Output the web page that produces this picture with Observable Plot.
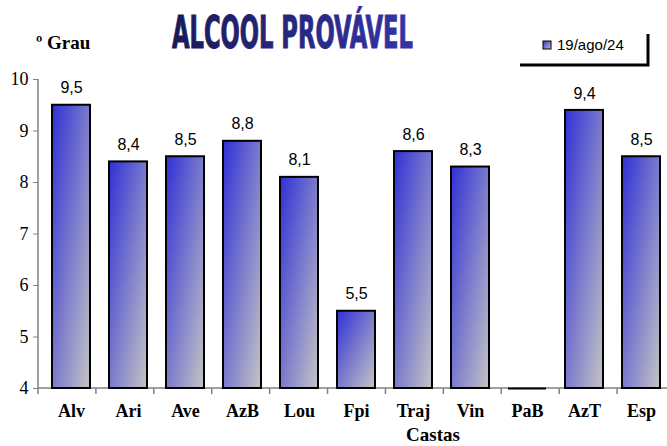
<!DOCTYPE html>
<html><head><meta charset="utf-8">
<script src="https://cdn.jsdelivr.net/npm/d3@7"></script>
<script src="https://cdn.jsdelivr.net/npm/@observablehq/plot@0.6"></script>
<style>html,body{margin:0;padding:0;overflow:hidden;background:#fff}</style>
</head><body><div id="chart"></div>
<script>
const castas = ["Alv","Ari","Ave","AzB","Lou","Fpi","Traj","Vin","PaB","AzT","Esp"];
const valores = [9.5, 8.4, 8.5, 8.8, 8.1, 5.5, 8.6, 8.3, 0, 9.4, 8.5];
const yTicks = [4, 5, 6, 7, 8, 9, 10];
const titulo = "ALCOOL PROVÁVEL";
const legendaLabel = "19/ago/24";
const yLabel = "º Grau";
const xLabel = "Castas";
const baseline = 4;

const data = castas.map((c, i) => ({casta: c, valor: valores[i]}));
const fmt = v => v.toFixed(1).replace(".", ",");
const serif = "'Liberation Serif','Times New Roman',serif";
const sans = "'Liberation Sans',Arial,sans-serif";

const plot = Plot.plot({
  width: 667, height: 446,
  marginLeft: 38, marginRight: -8, marginTop: 79, marginBottom: 58,
  style: {background: "white", overflow: "hidden"},
  x: {domain: castas, paddingInner: 0.33, paddingOuter: 0.165, label: null},
  y: {domain: [4, 10], label: null},
  marks: [
    Plot.axisY({ticks: yTicks, tickFormat: d3.format("d"), tickSize: 5, tickPadding: 5, stroke: "#808080", fontSize: 18, fontFamily: serif, label: null}),
    Plot.axisX({tickSize: 0, tickPadding: 16, fontSize: 18, fontWeight: "bold", fontFamily: serif, label: null}),
    Plot.barY(data.filter(d => d.valor > baseline), {x: "casta", y1: baseline, y2: "valor", fill: "url(#barGrad)", stroke: "black", strokeWidth: 2}),
    Plot.tickY(data.filter(d => d.valor <= baseline), {x: "casta", y: () => baseline, stroke: "black", strokeWidth: 2}),
    Plot.text(data.filter(d => d.valor > baseline), {x: "casta", y: "valor", text: d => fmt(d.valor), dy: -17, fontSize: 16, fontFamily: sans, fill: "black"})
  ]
});
document.getElementById("chart").appendChild(plot);

const svg = d3.select(plot);
const xs = plot.scale("x"), ys = plot.scale("y");
const defs = svg.insert("defs", ":first-child");
const g1 = defs.append("linearGradient").attr("id", "barGrad").attr("x1", 0).attr("y1", 0).attr("x2", 1).attr("y2", 1);
g1.append("stop").attr("offset", "0%").attr("stop-color", "#3030d6");
g1.append("stop").attr("offset", "100%").attr("stop-color", "#c4c4c4");
const g2 = defs.append("linearGradient").attr("id", "titleGrad").attr("x1", 0).attr("y1", 0).attr("x2", 1).attr("y2", 0);
g2.append("stop").attr("offset", "0%").attr("stop-color", "#1a1a58");
g2.append("stop").attr("offset", "100%").attr("stop-color", "#3434a6");

// axis lines and band boundary ticks
const y0 = ys.apply(baseline), yTop = ys.apply(yTicks[yTicks.length - 1]);
const [xL, xR] = xs.range;
const step = (xR - xL) / castas.length;
const axes = svg.insert("g", "defs + *").attr("stroke", "#808080").attr("stroke-width", 1.5);
axes.append("line").attr("x1", xL).attr("x2", xR).attr("y1", y0).attr("y2", y0);
axes.append("line").attr("x1", xL).attr("x2", xL).attr("y1", yTop).attr("y2", y0);
castas.forEach((c, i) => {
  const bx = xL + i * step;
  axes.append("line").attr("x1", bx).attr("x2", bx).attr("y1", y0).attr("y2", y0 + 6);
});

const deco = svg.append("g").attr("text-anchor", "start");
// title
deco.append("text").attr("x", 172).attr("y", 48).text(titulo)
  .attr("font-family", "'DejaVu Sans Condensed','DejaVu Sans',sans-serif").attr("font-weight", "bold")
  .attr("font-size", 45).attr("textLength", 241).attr("lengthAdjust", "spacingAndGlyphs")
  .attr("fill", "url(#titleGrad)").attr("stroke", "url(#titleGrad)").attr("stroke-width", 1);

// y label
deco.append("text").attr("x", 36).attr("y", 49).text(yLabel)
  .attr("font-family", serif).attr("font-weight", "bold").attr("font-size", 19).attr("fill", "black");

// x label
deco.append("text").attr("x", 433).attr("y", 441).attr("text-anchor", "middle").text(xLabel)
  .attr("font-family", serif).attr("font-weight", "bold").attr("font-size", 19).attr("fill", "black");

// legend
deco.append("rect").attr("x", 543).attr("y", 41).attr("width", 8).attr("height", 8)
  .attr("fill", "url(#barGrad)").attr("stroke", "black").attr("stroke-width", 1);
deco.append("text").attr("x", 557).attr("y", 50).text(legendaLabel)
  .attr("font-family", sans).attr("font-size", 15).attr("fill", "black");
deco.append("polyline").attr("points", "520,65 648,65 648,34")
  .attr("fill", "none").attr("stroke", "black").attr("stroke-width", 3);
</script>
</body></html>
